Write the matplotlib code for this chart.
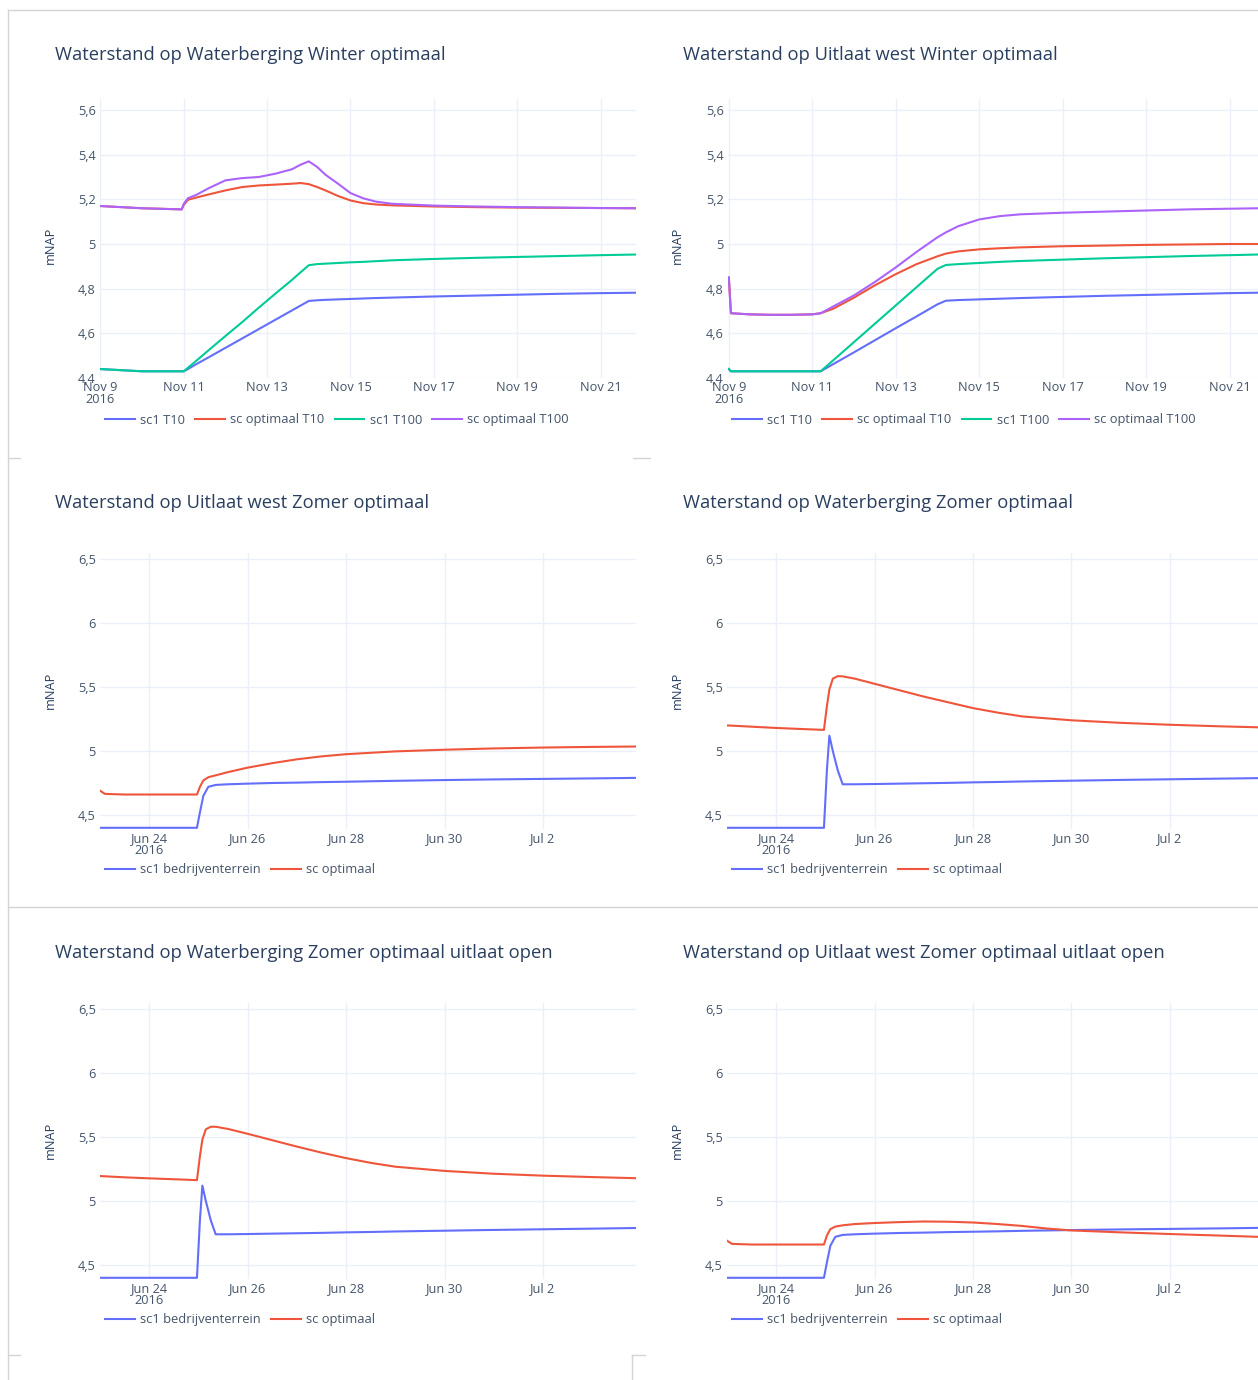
import numpy as np
import matplotlib
matplotlib.use("Agg")
import matplotlib.pyplot as plt
import matplotlib.dates as mdates
from matplotlib.ticker import FuncFormatter
from matplotlib.lines import Line2D

plt.rcParams["font.family"] = ["Open Sans", "DejaVu Sans"]

W, H = 1258, 1380
BLUE, RED, GREEN, PURPLE = "#636EFA", "#EF553B", "#00CC96", "#AB63FA"
TXT = "#2a3f5f"
GRID = "#EBF0F8"

# --- data (days since start date) ---
# Waterberging Winter optimaal (start 2016-11-09)
wb_w_days = [0, 1, 1.95, 2.0, 2.1, 2.3, 2.6, 3.0, 3.4, 3.8, 4.2, 4.6, 4.8, 5.0,
             5.2, 5.4, 5.7, 6.0, 6.3, 6.6, 7.0, 8.0, 9.0, 10.0, 11.0, 12.0, 12.9]
wb_w_sc1_t10 = [4.44, 4.43, 4.43, 4.43, 4.44, 4.462, 4.493, 4.535, 4.577, 4.619, 4.661, 4.703, 4.724, 4.745,
                4.748, 4.75, 4.752, 4.754, 4.756, 4.758, 4.76, 4.765, 4.769, 4.773, 4.777, 4.78, 4.782]
wb_w_opt_t10 = [5.17, 5.16, 5.155, 5.175, 5.198, 5.208, 5.222, 5.24, 5.255, 5.262, 5.266, 5.27, 5.273, 5.268,
                5.255, 5.24, 5.215, 5.195, 5.183, 5.177, 5.173, 5.168, 5.165, 5.163, 5.162, 5.161, 5.16]
wb_w_sc1_t100 = [4.44, 4.43, 4.43, 4.43, 4.446, 4.477, 4.525, 4.588, 4.65, 4.715, 4.778, 4.84, 4.873, 4.905,
                 4.91, 4.912, 4.915, 4.918, 4.92, 4.923, 4.927, 4.933, 4.938, 4.942, 4.946, 4.95, 4.953]
wb_w_opt_t100 = [5.17, 5.16, 5.155, 5.18, 5.205, 5.22, 5.25, 5.285, 5.295, 5.30, 5.315, 5.335, 5.355, 5.37,
                 5.345, 5.31, 5.27, 5.228, 5.205, 5.19, 5.18, 5.172, 5.168, 5.165, 5.163, 5.161, 5.16]

# Uitlaat west Winter optimaal (start 2016-11-09)
uw_w_days = [0, 0.05, 0.5, 1, 1.5, 2.0, 2.2, 2.5, 3.0, 3.5, 4.0, 4.5, 5.0, 5.2,
             5.5, 6.0, 6.5, 7.0, 8, 9, 10, 11, 12, 12.7]
uw_w_sc1_t10 = [4.44, 4.43, 4.43, 4.43, 4.43, 4.43, 4.43, 4.462, 4.515, 4.569, 4.623, 4.676, 4.73, 4.746,
                4.749, 4.752, 4.755, 4.758, 4.763, 4.768, 4.772, 4.776, 4.78, 4.782]
uw_w_opt_t10 = [4.85, 4.69, 4.685, 4.683, 4.683, 4.685, 4.69, 4.71, 4.76, 4.815, 4.865, 4.91, 4.945, 4.957,
                4.967, 4.976, 4.981, 4.985, 4.99, 4.993, 4.996, 4.998, 5.0, 5.0]
uw_w_sc1_t100 = [4.44, 4.43, 4.43, 4.43, 4.43, 4.43, 4.43, 4.479, 4.561, 4.643, 4.725, 4.807, 4.889, 4.906,
                 4.91, 4.915, 4.92, 4.924, 4.93, 4.936, 4.941, 4.946, 4.95, 4.953]
uw_w_opt_t100 = [4.85, 4.69, 4.685, 4.683, 4.683, 4.685, 4.69, 4.72, 4.77, 4.83, 4.895, 4.965, 5.03, 5.052,
                 5.08, 5.11, 5.125, 5.133, 5.14, 5.145, 5.15, 5.155, 5.158, 5.16]

# Uitlaat west Zomer optimaal (start 2016-06-23)
uw_z_days = [0, 0.1, 0.5, 1, 1.5, 1.97, 2.03, 2.1, 2.2, 2.35, 2.6, 3.0, 3.5, 4.0,
             4.5, 5.0, 6.0, 7.0, 8.0, 9.0, 10.0, 10.9]
uw_z_sc1 = [4.40, 4.40, 4.40, 4.40, 4.40, 4.40, 4.52, 4.65, 4.72, 4.735, 4.74, 4.745, 4.75, 4.753,
            4.757, 4.76, 4.767, 4.773, 4.778, 4.782, 4.786, 4.79]
uw_z_opt = [4.69, 4.665, 4.66, 4.66, 4.66, 4.66, 4.72, 4.77, 4.795, 4.81, 4.835, 4.87, 4.905, 4.935,
            4.958, 4.975, 4.997, 5.01, 5.02, 5.027, 5.032, 5.035]

# Waterberging Zomer optimaal (start 2016-06-23)
wb_z_days = [0, 0.5, 1, 1.5, 1.97, 2.03, 2.08, 2.15, 2.25, 2.35, 2.6, 3.0, 3.5, 4.0,
             4.5, 5.0, 5.5, 6.0, 7.0, 8.0, 9.0, 10.0, 10.8]
wb_z_sc1 = [4.40, 4.40, 4.40, 4.40, 4.40, 4.85, 5.12, 5.0, 4.85, 4.74, 4.74, 4.742, 4.745, 4.748,
            4.751, 4.755, 4.758, 4.762, 4.768, 4.774, 4.779, 4.784, 4.788]
wb_z_opt = [5.20, 5.19, 5.18, 5.172, 5.165, 5.35, 5.48, 5.565, 5.585, 5.583, 5.565, 5.525, 5.475, 5.425,
            5.38, 5.335, 5.30, 5.27, 5.24, 5.22, 5.205, 5.193, 5.185]

# Waterberging Zomer optimaal uitlaat open (start 2016-06-23)
wb_zo_days = [0, 0.5, 1, 1.5, 1.97, 2.03, 2.08, 2.15, 2.25, 2.35, 2.6, 3.0, 3.5, 4.0,
              4.5, 5.0, 5.5, 6.0, 7.0, 8.0, 9.0, 10.0, 10.9]
wb_zo_sc1 = [4.40, 4.40, 4.40, 4.40, 4.40, 4.85, 5.12, 5.0, 4.85, 4.74, 4.74, 4.742, 4.745, 4.748,
             4.751, 4.755, 4.758, 4.762, 4.768, 4.774, 4.779, 4.784, 4.789]
wb_zo_opt = [5.195, 5.185, 5.177, 5.17, 5.163, 5.35, 5.48, 5.56, 5.58, 5.58, 5.563, 5.525, 5.475, 5.425,
             5.378, 5.335, 5.298, 5.268, 5.235, 5.213, 5.198, 5.187, 5.178]

# Uitlaat west Zomer optimaal uitlaat open (start 2016-06-23)
uw_zo_days = [0, 0.1, 0.5, 1, 1.5, 1.97, 2.03, 2.1, 2.2, 2.35, 2.6, 3.0, 3.5, 4.0,
              4.5, 5.0, 5.5, 6.0, 6.5, 7.0, 8.0, 9.0, 10.0, 10.8]
uw_zo_sc1 = [4.40, 4.40, 4.40, 4.40, 4.40, 4.40, 4.52, 4.65, 4.72, 4.735, 4.74, 4.745, 4.75, 4.753,
             4.757, 4.76, 4.763, 4.767, 4.77, 4.773, 4.778, 4.782, 4.786, 4.79]
uw_zo_opt = [4.69, 4.665, 4.66, 4.66, 4.66, 4.66, 4.73, 4.78, 4.80, 4.81, 4.82, 4.828, 4.835, 4.84,
             4.838, 4.832, 4.82, 4.805, 4.785, 4.77, 4.755, 4.742, 4.73, 4.72]

winter_labels = ["sc1 T10", "sc optimaal T10", "sc1 T100", "sc optimaal T100"]
zomer_labels = ["sc1 bedrijventerrein", "sc optimaal"]
winter_yticks = [4.4, 4.6, 4.8, 5.0, 5.2, 5.4, 5.6]
zomer_yticks = [4.5, 5.0, 5.5, 6.0, 6.5]


def to_dates(start, days):
    secs = np.round(np.asarray(days) * 86400).astype(np.int64)
    return np.datetime64(start) + secs.astype("timedelta64[s]")


def date_label(x, pos):
    d = mdates.num2date(x)
    s = f"{d.strftime('%b')} {d.day}"
    if (d.month == 11 and d.day == 9) or (d.month == 6 and d.day == 24):
        s += "\n2016"
    return s


def comma(v, pos):
    return f"{v:g}".replace(".", ",")


fig = plt.figure(figsize=(W / 100, H / 100), dpi=100)


def add_panel(box, title, title_xy, ylab_xy, start, days, series, ylim, yticks,
              xlim_days, monthdays, legend_xy):
    l, t, r, b = box
    ax = fig.add_axes([l / W, 1 - b / H, (r - l) / W, (b - t) / H])
    x = to_dates(start, days)
    for vals, color, lab in series:
        ax.plot(x, vals, color=color, lw=1.5, label=lab, solid_joinstyle="round")
    ax.set_ylim(*ylim)
    ax.set_yticks(yticks)
    ax.yaxis.set_major_formatter(FuncFormatter(comma))
    ax.set_xlim(to_dates(start, [xlim_days[0]])[0], to_dates(start, [xlim_days[1]])[0])
    ax.xaxis.set_major_locator(mdates.DayLocator(bymonthday=monthdays))
    ax.xaxis.set_major_formatter(FuncFormatter(date_label))
    for s in ax.spines.values():
        s.set_visible(False)
    ax.grid(True, color=GRID, lw=1)
    ax.set_axisbelow(True)
    ax.tick_params(axis="x", length=0, labelsize=9.2, labelcolor="#44546a", pad=2)
    ax.tick_params(axis="y", length=0, labelsize=9.2, labelcolor="#44546a", pad=3)
    for lab in ax.get_xticklabels():
        lab.set_linespacing(0.95)
    fig.text(title_xy[0] / W, 1 - title_xy[1] / H, title, fontsize=13.2, color=TXT,
             ha="left", va="center")
    fig.text(ylab_xy[0] / W, 1 - ylab_xy[1] / H, "mNAP", fontsize=9.2, color=TXT,
             rotation=90, ha="center", va="center")
    ax.legend(loc="center left", bbox_to_anchor=(legend_xy[0] / W, 1 - legend_xy[1] / H),
              bbox_transform=fig.transFigure, ncol=len(series), frameon=False,
              fontsize=9.3, handlelength=2.3, handletextpad=0.4, columnspacing=0.8,
              borderpad=0, borderaxespad=0, labelcolor="#44546a")
    return ax


odd_days = list(range(1, 32, 2))
even_days = list(range(2, 32, 2))

winter_top, winter_bot = 378 - 1.25 * 268 / 1.2, 378
add_panel((100, winter_top, 636, winter_bot), "Waterstand op Waterberging Winter optimaal",
          (55, 55), (50, 245), "2016-11-09", wb_w_days,
          [(wb_w_sc1_t10, BLUE, winter_labels[0]), (wb_w_opt_t10, RED, winter_labels[1]),
           (wb_w_sc1_t100, GREEN, winter_labels[2]), (wb_w_opt_t100, PURPLE, winter_labels[3])],
          (4.4, 5.65), winter_yticks, (-0.01, 12.85), odd_days, (105, 420))
add_panel((728, winter_top, 1258, winter_bot), "Waterstand op Uitlaat west Winter optimaal",
          (683, 55), (677, 245), "2016-11-09", uw_w_days,
          [(uw_w_sc1_t10, BLUE, winter_labels[0]), (uw_w_opt_t10, RED, winter_labels[1]),
           (uw_w_sc1_t100, GREEN, winter_labels[2]), (uw_w_opt_t100, PURPLE, winter_labels[3])],
          (4.4, 5.65), winter_yticks, (-0.02, 12.68), odd_days, (732, 420))

for row, (lt, rt, ld, rd) in enumerate([
    ("Waterstand op Uitlaat west Zomer optimaal", "Waterstand op Waterberging Zomer optimaal",
     (uw_z_days, uw_z_sc1, uw_z_opt), (wb_z_days, wb_z_sc1, wb_z_opt)),
    ("Waterstand op Waterberging Zomer optimaal uitlaat open",
     "Waterstand op Uitlaat west Zomer optimaal uitlaat open",
     (wb_zo_days, wb_zo_sc1, wb_zo_opt), (uw_zo_days, uw_zo_sc1, uw_zo_opt)),
]):
    off = 450 * row
    top = 559 - 0.05 * 128 + off
    bot = 815 + 0.11 * 128 + off
    add_panel((100, top, 636, bot), lt, (55, 503 + off), (50, 690 + off), "2016-06-23", ld[0],
              [(ld[1], BLUE, zomer_labels[0]), (ld[2], RED, zomer_labels[1])],
              (4.39, 6.55), zomer_yticks, (0, 10.89), even_days, (105, 870 + off))
    add_panel((727, top, 1258, bot), rt, (683, 503 + off), (677, 690 + off), "2016-06-23", rd[0],
              [(rd[1], BLUE, zomer_labels[0]), (rd[2], RED, zomer_labels[1])],
              (4.39, 6.55), zomer_yticks, (0, 10.79), even_days, (732, 870 + off))

# dashboard card borders
def seg(x0, y0, x1, y1):
    fig.add_artist(Line2D([x0 / W, x1 / W], [1 - y0 / H, 1 - y1 / H],
                          transform=fig.transFigure, color="#d4d4d4", lw=1))

seg(8, 10, 8, 1380)
seg(8, 10, 1258, 10)
seg(8, 907, 1258, 907)
seg(8, 458, 20, 458)
seg(633, 458, 650, 458)
seg(8, 1355, 20, 1355)
seg(632, 1355, 645, 1355)
seg(632, 1355, 632, 1380)

fig.savefig("out.png", dpi=100)
